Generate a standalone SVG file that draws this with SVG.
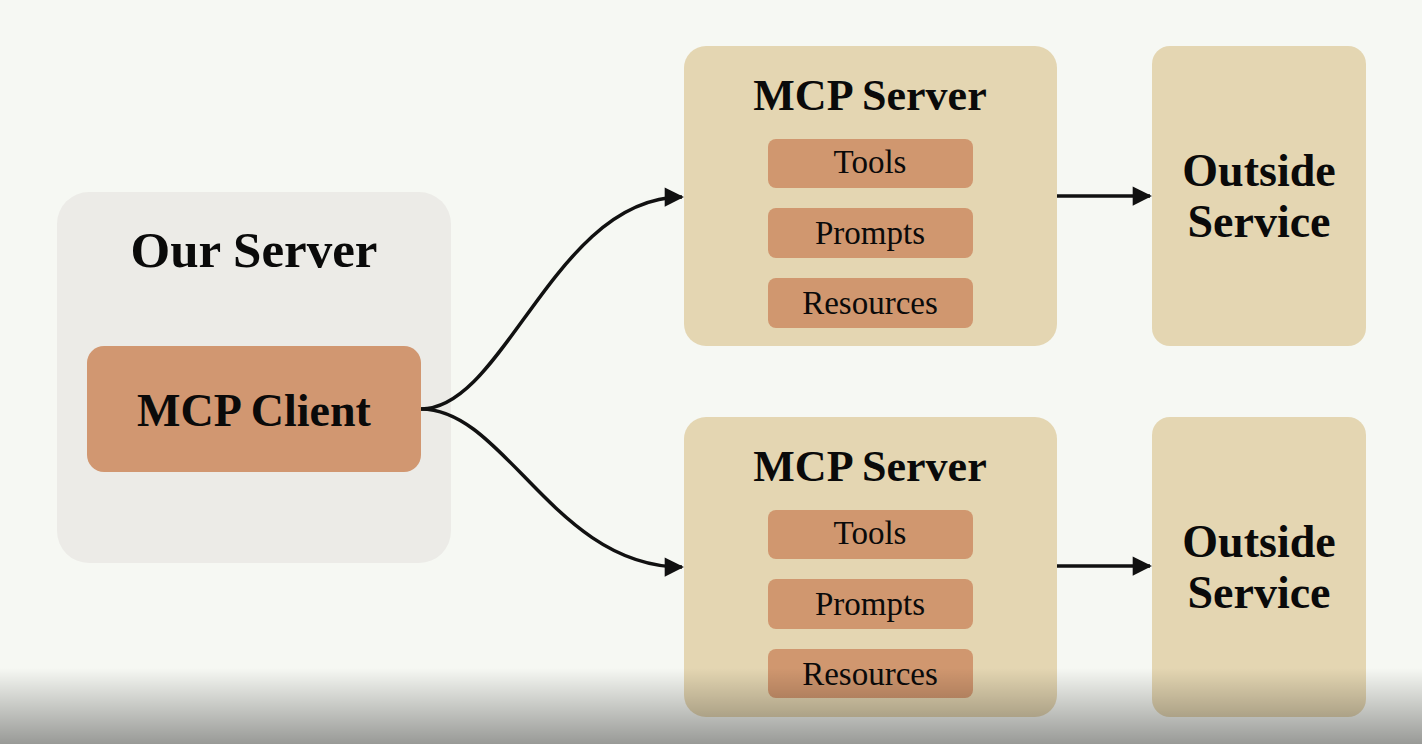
<svg xmlns="http://www.w3.org/2000/svg" width="1422" height="744" viewBox="0 0 1422 744">
<defs>
<style>
.bg{fill:#f6f8f3}
.outer{fill:#ecebe7}
.client{fill:#d19771}
.server{fill:#e4d6b2}
.item{fill:#d0976f}
.t{font-family:"Liberation Serif","Times New Roman",serif;fill:#0a0a0a;text-anchor:middle}
.b{font-weight:bold}
.conn{fill:none;stroke:#111;stroke-width:3.5}
</style>
<marker id="ah" viewBox="0 0 10 10" refX="9" refY="5" markerWidth="6.5" markerHeight="5.5" markerUnits="strokeWidth" orient="auto">
<path d="M0,0 L10,5 L0,10 z" fill="#111"/>
</marker>
<linearGradient id="shade" x1="0" y1="0" x2="0" y2="1">
<stop offset="0" stop-color="#000" stop-opacity="0"/>
<stop offset="1" stop-color="#000" stop-opacity="0.38"/>
</linearGradient>
</defs>
<rect class="bg" x="0" y="0" width="1422" height="744"/>
<g id="our-server">
<rect class="outer" x="57" y="192" width="394" height="371" rx="32"/>
<text class="t b" x="254" y="267" font-size="51">Our Server</text>
</g>
<g id="mcp-client">
<rect class="client" x="87" y="346" width="334" height="126" rx="17"/>
<text class="t b" x="254" y="426" font-size="46">MCP Client</text>
</g>
<g id="mcp-server-1">
<rect class="server" x="684" y="46" width="373" height="300" rx="22"/>
<text class="t b" x="870" y="110" font-size="44">MCP Server</text>
<rect class="item" x="768" y="139" width="205" height="49" rx="8"/>
<text class="t" x="870" y="173" font-size="33">Tools</text>
<rect class="item" x="768" y="208" width="205" height="50" rx="8"/>
<text class="t" x="870" y="244" font-size="33">Prompts</text>
<rect class="item" x="768" y="278" width="205" height="50" rx="8"/>
<text class="t" x="870" y="314" font-size="33">Resources</text>
</g>
<g id="outside-service-1">
<rect class="server" x="1152" y="46" width="214" height="300" rx="18"/>
<text class="t b" x="1259" y="186" font-size="46">Outside</text>
<text class="t b" x="1259" y="237" font-size="46">Service</text>
</g>
<g id="mcp-server-2">
<rect class="server" x="684" y="417" width="373" height="300" rx="22"/>
<text class="t b" x="870" y="481" font-size="44">MCP Server</text>
<rect class="item" x="768" y="510" width="205" height="49" rx="8"/>
<text class="t" x="870" y="544" font-size="33">Tools</text>
<rect class="item" x="768" y="579" width="205" height="50" rx="8"/>
<text class="t" x="870" y="615" font-size="33">Prompts</text>
<rect class="item" x="768" y="649" width="205" height="49" rx="8"/>
<text class="t" x="870" y="685" font-size="33">Resources</text>
</g>
<g id="outside-service-2">
<rect class="server" x="1152" y="417" width="214" height="300" rx="18"/>
<text class="t b" x="1259" y="557" font-size="46">Outside</text>
<text class="t b" x="1259" y="608" font-size="46">Service</text>
</g>
<g id="connectors">
<path class="conn" marker-end="url(#ah)" d="M421,409 C505,409 555,197 682,197"/>
<path class="conn" marker-end="url(#ah)" d="M421,409 C505,409 555,567 682,567"/>
<path class="conn" marker-end="url(#ah)" d="M1057,196 L1150,196"/>
<path class="conn" marker-end="url(#ah)" d="M1057,566 L1150,566"/>
</g>
<rect x="0" y="668" width="1422" height="76" fill="url(#shade)"/>
</svg>
